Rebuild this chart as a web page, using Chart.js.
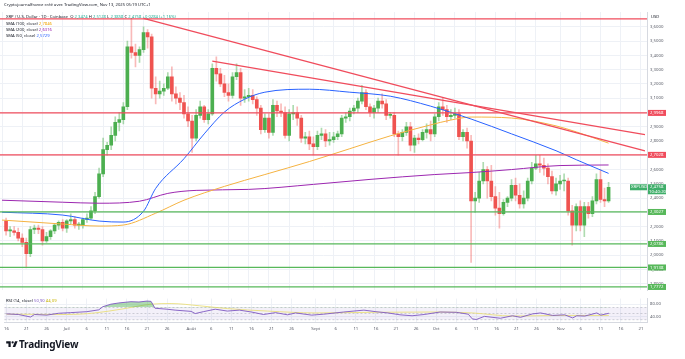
<!DOCTYPE html>
<html>
<head>
<meta charset="utf-8">
<script src="https://cdn.jsdelivr.net/npm/chart.js@4.4.1/dist/chart.umd.min.js"></script>
<style>
  html, body { margin: 0; padding: 0; background: #fff; }
  #wrap { position: relative; width: 685px; height: 359px; overflow: hidden; font-family: 'Noto Sans', 'Liberation Sans', sans-serif; color: #131722; }
  #priceBox { position: absolute; left: 0; top: 0; width: 685px; height: 296px; }
  #rsiBox { position: absolute; left: 0; top: 293px; width: 685px; height: 45px; }
  .t { position: absolute; white-space: nowrap; line-height: 1; }
  .up { color: #22ab94; }
</style>
</head>
<body>
<div id="wrap">
  <div id="priceBox"><canvas id="priceChart"></canvas></div>
  <div id="rsiBox"><canvas id="rsiChart"></canvas></div>

  <div class="t" style="left:4px;top:3px;font-size:4.2px;">Cryptojournalfrance créé avec TradingView.com, Nov 13, 2025 05:19 UTC+1</div>
  <div class="t" style="left:6px;top:15px;font-size:4.2px;">XRP / U.S. Dollar · 1D · Coinbase &nbsp;O <span class="up">2,3474</span> H <span class="up">2,5128</span> L <span class="up">2,3858</span> C <span class="up">2,4758 +0,0284 (+1,16%)</span></div>
  <div class="t" style="left:6px;top:22px;font-size:4.2px;">SMA (100, close) <span style="color:#f0a500">2,7846</span></div>
  <div class="t" style="left:6px;top:28px;font-size:4.2px;">SMA (200, close) <span style="color:#9c27b0">2,6316</span></div>
  <div class="t" style="left:6px;top:34px;font-size:4.2px;">SMA (50, close) <span style="color:#2962ff">2,5729</span></div>
  <div class="t" style="left:651px;top:15px;font-size:4.2px;">USD</div>
  <div class="t" style="left:6px;top:299px;font-size:4.2px;">RSI (14, close) <span style="color:#7e57c2">50,90</span> <span style="color:#c9b400">44,09</span></div>

  <div class="t" style="left:5px;top:339px;font-size:10px;font-weight:700;letter-spacing:-0.2px;">
    <svg width="14" height="9" viewBox="0 0 36 28" style="vertical-align:-1px"><path d="M14 22H7V11H0V4h14v18zM28 22h-8l7.5-18h8L28 22z" fill="#131722"/><circle cx="20" cy="7.5" r="3.5" fill="#131722"/></svg>TradingView
  </div>
</div>

<script>
// Axe du temps : une catégorie par jour, du 16 juin au 22 novembre 2025
const days = [];
for (let t = Date.UTC(2025, 5, 16); t <= Date.UTC(2025, 10, 22); t += 86400000) {
  days.push(new Date(t).toISOString().slice(0, 10));
}
const tickDays = [1, 6, 11, 16, 21, 26];
const monthNames = { '07': 'Juil', '08': 'Août', '09': 'Sept', '10': 'Oct', '11': 'Nov' };

// Bougies journalières XRP/USD (17 juin -> 13 novembre)
const firstCandle = '2025-06-17';
const opens = [
  2.24,2.17,2.17,2.16,2.12,2.09,2.01,2.18,2.19,2.18,2.10,2.13,2.17,2.21,
  2.23,2.19,2.24,2.25,2.21,2.21,2.25,2.26,2.31,2.41,2.57,2.74,2.77,2.84,2.93,2.95,3.04,3.46,3.42,3.40,3.44,3.56,3.53,3.17,3.13,3.15,3.17,3.25,3.13,3.10,3.07,
  2.99,2.94,2.82,2.98,3.04,2.95,2.99,3.31,3.27,3.20,3.14,3.12,3.25,3.28,3.10,3.11,3.12,3.09,3.03,2.88,2.96,2.86,3.05,3.01,3.00,2.84,2.99,3.00,2.96,2.82,2.83,
  2.78,2.76,2.84,2.85,2.80,2.81,2.83,2.85,2.96,2.97,3.01,3.03,3.08,3.14,3.04,3.00,3.03,3.08,3.06,2.98,2.98,2.85,2.83,2.86,2.90,2.77,2.82,2.81,2.86,2.88,
  2.85,2.97,3.04,3.02,2.97,2.98,2.99,2.83,2.86,2.80,2.38,2.40,2.52,2.60,2.52,2.41,2.33,2.29,2.37,2.40,2.49,2.42,2.36,2.40,2.52,2.61,2.64,2.63,2.61,2.55,2.45,
  2.50,2.52,2.52,2.31,2.21,2.34,2.21,2.34,2.29,2.38,2.53,2.39,2.38
];
const highs = [
  2.26,2.20,2.20,2.19,2.15,2.12,2.20,2.21,2.21,2.20,2.16,2.18,2.22,2.24,
  2.25,2.25,2.29,2.27,2.23,2.26,2.29,2.34,2.44,2.61,2.82,2.79,2.90,2.97,3.00,3.07,3.50,3.66,3.48,3.46,3.60,3.58,3.55,3.25,3.22,3.20,3.28,3.32,3.18,3.14,3.12,
  3.04,2.98,3.02,3.08,3.05,3.02,3.34,3.39,3.31,3.26,3.20,3.28,3.34,3.31,3.16,3.17,3.16,3.11,3.05,2.99,2.99,3.09,3.08,3.06,3.04,3.02,3.05,3.04,2.98,2.86,2.87,
  2.83,2.87,2.89,2.88,2.86,2.86,2.87,2.98,3.00,3.03,3.05,3.10,3.19,3.16,3.06,3.05,3.10,3.13,3.09,3.00,3.00,2.87,2.88,2.93,2.93,2.84,2.85,2.88,2.92,2.94,
  2.99,3.07,3.10,3.05,3.02,3.03,3.02,2.88,2.89,2.84,2.44,2.58,2.65,2.62,2.63,2.48,2.44,2.39,2.41,2.53,2.54,2.50,2.45,2.54,2.65,2.70,2.70,2.68,2.64,2.59,2.54,
  2.56,2.57,2.54,2.35,2.36,2.38,2.37,2.37,2.41,2.57,2.60,2.47,2.51
];
const lows = [
  2.14,2.13,2.14,2.10,2.06,1.91,1.99,2.15,2.15,2.07,2.09,2.11,2.15,2.18,
  2.17,2.16,2.22,2.19,2.18,2.19,2.23,2.25,2.29,2.40,2.55,2.70,2.74,2.80,2.87,2.92,3.02,3.38,3.32,3.35,3.42,3.45,3.10,3.06,3.10,3.12,3.16,3.08,3.06,3.02,2.96,
  2.90,2.72,2.80,2.96,2.93,2.92,2.98,3.22,3.18,3.11,3.08,3.10,3.23,3.05,3.07,3.08,3.06,2.98,2.85,2.86,2.82,2.84,2.97,2.97,2.82,2.80,2.95,2.91,2.79,2.78,2.74,
  2.70,2.74,2.81,2.76,2.77,2.79,2.81,2.83,2.93,2.94,2.99,3.00,3.06,3.02,2.97,2.96,3.00,3.03,2.95,2.96,2.83,2.70,2.80,2.84,2.73,2.72,2.78,2.80,2.82,2.80,
  2.83,2.94,2.98,2.93,2.95,2.96,2.81,2.80,2.75,1.95,2.30,2.37,2.50,2.40,2.38,2.28,2.19,2.28,2.34,2.38,2.38,2.33,2.33,2.38,2.50,2.60,2.58,2.56,2.50,2.43,2.42,
  2.46,2.45,2.28,2.07,2.17,2.17,2.13,2.26,2.27,2.36,2.37,2.34,2.37
];
const closes = [
  2.17,2.17,2.16,2.12,2.09,2.01,2.18,2.19,2.18,2.10,2.13,2.17,2.21,2.23,
  2.19,2.24,2.25,2.21,2.21,2.25,2.26,2.31,2.41,2.57,2.74,2.77,2.84,2.93,2.95,3.04,3.46,3.42,3.40,3.44,3.56,3.53,3.17,3.13,3.15,3.17,3.25,3.13,3.10,3.07,2.99,
  2.94,2.82,2.98,3.04,2.95,2.99,3.31,3.27,3.20,3.14,3.12,3.25,3.28,3.10,3.11,3.12,3.09,3.03,2.88,2.96,2.86,3.05,3.01,3.00,2.84,2.99,3.00,2.96,2.82,2.83,2.78,
  2.76,2.84,2.85,2.80,2.81,2.83,2.85,2.96,2.97,3.01,3.03,3.08,3.14,3.04,3.00,3.03,3.08,3.06,2.98,2.98,2.85,2.83,2.86,2.90,2.77,2.82,2.81,2.86,2.88,2.85,
  2.97,3.04,3.02,2.97,2.98,2.99,2.83,2.86,2.80,2.38,2.40,2.52,2.60,2.52,2.41,2.33,2.29,2.37,2.40,2.49,2.42,2.36,2.40,2.52,2.61,2.64,2.63,2.61,2.55,2.45,2.50,
  2.52,2.52,2.31,2.21,2.34,2.21,2.34,2.29,2.38,2.53,2.39,2.38,2.4758
];

// Moyennes mobiles (dates, valeurs)
const sma50Days = ['2025-06-16','2025-07-01','2025-07-10','2025-07-16','2025-07-21','2025-07-24','2025-07-31','2025-08-05','2025-08-10','2025-08-15','2025-08-20','2025-08-31','2025-09-10','2025-09-20','2025-09-30','2025-10-10','2025-10-20','2025-10-31','2025-11-05','2025-11-13'];
const sma50Values = [2.301,2.281,2.239,2.232,2.308,2.468,2.676,2.850,3.003,3.093,3.142,3.163,3.142,3.114,3.044,2.954,2.850,2.732,2.669,2.573];
const sma100Days = ['2025-06-16','2025-07-01','2025-07-10','2025-07-16','2025-07-24','2025-07-31','2025-08-10','2025-08-20','2025-08-31','2025-09-10','2025-09-20','2025-09-30','2025-10-05','2025-10-10','2025-10-20','2025-10-31','2025-11-05','2025-11-13'];
const sma100Values = [2.246,2.218,2.204,2.211,2.294,2.385,2.482,2.565,2.656,2.746,2.836,2.913,2.947,2.968,2.961,2.906,2.864,2.785];
const sma200Days = ['2025-06-16','2025-07-01','2025-07-10','2025-07-20','2025-07-27','2025-08-03','2025-08-16','2025-09-01','2025-09-15','2025-10-01','2025-10-10','2025-10-20','2025-11-01','2025-11-13'];
const sma200Values = [2.385,2.371,2.364,2.378,2.433,2.454,2.461,2.496,2.531,2.565,2.579,2.600,2.628,2.632];

// Tracés : lignes de tendance et niveaux horizontaux
const trend1Days = ['2025-07-21', '2025-11-22'];
const trend1Values = [3.66, 2.73];
const trend2Days = ['2025-08-07', '2025-11-22'];
const trend2Values = [3.36, 2.845];
const levelValues = [3.656, 2.9968, 2.7028, 2.3027, 2.0786, 1.9138, 1.7772];
const levelTags = ['', '2,9968', '2,7028', '2,3027', '2,0786', '1,9138', '1,7772'];
const levelKinds = ['r', 'r', 'r', 'g', 'g', 'g', 'g'];
const priceTicks = [1.8,1.9,2.0,2.1,2.2,2.3,2.4,2.5,2.6,2.7,2.8,2.9,3.0,3.1,3.2,3.3,3.4,3.5,3.6];
const lastPrice = 2.4758;

const rsiDays = ['2025-06-16','2025-06-19','2025-06-22','2025-06-23','2025-06-26','2025-06-29','2025-07-02','2025-07-06','2025-07-09','2025-07-10','2025-07-12','2025-07-14','2025-07-17','2025-07-19','2025-07-21','2025-07-22','2025-07-23','2025-07-26','2025-07-28','2025-08-01','2025-08-02','2025-08-04','2025-08-07','2025-08-10','2025-08-13','2025-08-16','2025-08-19','2025-08-22','2025-08-25','2025-08-27','2025-08-31','2025-09-03','2025-09-08','2025-09-13','2025-09-16','2025-09-19','2025-09-22','2025-09-25','2025-09-28','2025-10-02','2025-10-06','2025-10-09','2025-10-10','2025-10-11','2025-10-13','2025-10-17','2025-10-20','2025-10-22','2025-10-25','2025-10-27','2025-10-30','2025-11-02','2025-11-04','2025-11-05','2025-11-07','2025-11-10','2025-11-11','2025-11-13'];
const rsiValues = [49,47,39,47,45,51,53,56,62,72,80,84,88,87,90,89,67,64,61,57,50,56,64,58,61,55,47,53,46,52,45,48,55,61,56,52,46,43,47,55,54,48,33,31,41,35,43,38,49,52,44,46,36,43,42,52,45,51];
const rsiMaDays = ['2025-06-16','2025-07-01','2025-07-08','2025-07-15','2025-07-22','2025-07-27','2025-08-03','2025-08-10','2025-08-20','2025-09-01','2025-09-15','2025-10-01','2025-10-10','2025-10-20','2025-11-01','2025-11-13'];
const rsiMaValues = [48,47,52,65,80,82,75,66,58,52,54,55,52,42,44,44];

const upColor = '#4caf50';
const downColor = '#ef5350';
const redLine = '#f04c5c';
const greenLine = '#57b85a';
const gridColor = '#eef1f6';

const toPoints = (d, v) => d.map((x, i) => ({ x: x, y: v[i] }));
const start = days.indexOf(firstCandle);
const candleDays = days.slice(start, start + opens.length);

// Filtre des graduations du temps (1, 6, 11, 16, 21, 26)
function keepTimeTicks(scale) {
  scale.ticks = scale.ticks.filter(t => tickDays.includes(+days[t.value].slice(8)));
}
function timeLabel(value) {
  const d = days[value];
  if (d.slice(8) === '01') return monthNames[d.slice(5, 7)];
  return String(+d.slice(8));
}

// Niveaux horizontaux + étiquettes sur l'axe des prix
const levelsPlugin = {
  id: 'levels',
  afterDatasetsDraw(chart) {
    const { ctx, chartArea: a, scales: { y } } = chart;
    ctx.save();
    levelValues.forEach((v, i) => {
      const py = y.getPixelForValue(v);
      ctx.strokeStyle = levelKinds[i] === 'r' ? redLine : greenLine;
      ctx.lineWidth = 1.3;
      ctx.beginPath(); ctx.moveTo(a.left, py); ctx.lineTo(a.right, py); ctx.stroke();
    });
    ctx.restore();
  },
  afterDraw(chart) {
    const { ctx, chartArea: a, scales: { y } } = chart;
    ctx.save();
    ctx.font = '4.3px "Noto Sans"';
    ctx.textBaseline = 'middle';
    levelValues.forEach((v, i) => {
      if (!levelTags[i]) return;
      const py = y.getPixelForValue(v);
      ctx.fillStyle = levelKinds[i] === 'r' ? redLine : greenLine;
      ctx.fillRect(a.right + 1, py - 3, 18, 6);
      ctx.fillStyle = '#fff';
      ctx.fillText(levelTags[i], a.right + 3, py);
    });
    // prix courant
    const py = y.getPixelForValue(lastPrice);
    ctx.fillStyle = '#3fae6a';
    ctx.fillRect(a.right - 17, py - 3, 17, 6);
    ctx.fillRect(a.right + 1, py - 3, 18, 10);
    ctx.fillStyle = '#fff';
    ctx.fillText('XRPUSD', a.right - 16, py);
    ctx.fillText('2,4758', a.right + 3, py);
    ctx.fillText('10:40:20', a.right + 2, py + 4.5);
    ctx.restore();
  }
};

const smaLine = (d, v, color) => ({
  type: 'line', data: toPoints(d, v), borderColor: color, borderWidth: 1, pointRadius: 0,
  cubicInterpolationMode: 'monotone', order: 1
});

const priceChart = new Chart(document.getElementById('priceChart'), {
  type: 'bar',
  data: {
    labels: days,
    datasets: [
      { type: 'line', data: toPoints(trend1Days, trend1Values), borderColor: redLine, borderWidth: 1.3, pointRadius: 0, order: 0 },
      { type: 'line', data: toPoints(trend2Days, trend2Values), borderColor: redLine, borderWidth: 1.3, pointRadius: 0, order: 0 },
      smaLine(sma50Days, sma50Values, '#2962ff'),
      smaLine(sma100Days, sma100Values, '#f5b342'),
      smaLine(sma200Days, sma200Values, '#9c27b0'),
      {
        data: candleDays.map((d, i) => ({ x: d, y: [lows[i], highs[i]] })),
        backgroundColor: opens.map((o, i) => closes[i] >= o ? 'rgba(76,175,80,0.45)' : 'rgba(239,83,80,0.4)'),
        barThickness: 1, grouped: false, order: 3
      },
      {
        data: candleDays.map((d, i) => ({ x: d, y: [opens[i], closes[i]] })),
        backgroundColor: opens.map((o, i) => closes[i] >= o ? upColor : downColor),
        barThickness: 3, minBarLength: 1, grouped: false, order: 2
      }
    ]
  },
  options: {
    responsive: true,
    maintainAspectRatio: false,
    animation: false,
    events: [],
    layout: { padding: { top: 12, bottom: 3, left: 0, right: 0 } },
    plugins: { legend: { display: false }, tooltip: { enabled: false } },
    scales: {
      x: {
        offset: true,
        grid: { color: gridColor, offset: false, drawTicks: false },
        border: { display: false },
        ticks: { display: false, autoSkip: false },
        afterBuildTicks: keepTimeTicks
      },
      y: {
        position: 'right',
        min: 1.753,
        max: 3.704,
        afterBuildTicks: s => { s.ticks = priceTicks.map(v => ({ value: v })); },
        afterFit: s => { s.width = 38; },
        grid: { color: gridColor, drawTicks: false },
        border: { display: true, color: '#d6d9e0' },
        ticks: { padding: 3, color: '#5d606b', font: { size: 4.3, family: 'Noto Sans' }, callback: v => v.toFixed(4).replace('.', ',') }
      }
    }
  },
  plugins: [levelsPlugin]
});

// Bande 30-70 du RSI
const bandPlugin = {
  id: 'band',
  beforeDatasetsDraw(chart) {
    const { ctx, chartArea: a, scales: { y } } = chart;
    const y70 = y.getPixelForValue(70), y50 = y.getPixelForValue(50), y30 = y.getPixelForValue(30);
    ctx.save();
    ctx.fillStyle = 'rgba(126,87,194,0.09)';
    ctx.fillRect(a.left, y70, a.width, y30 - y70);
    ctx.strokeStyle = 'rgba(120,123,134,0.55)';
    ctx.lineWidth = 0.6;
    ctx.setLineDash([2, 2]);
    [y70, y50, y30].forEach(py => { ctx.beginPath(); ctx.moveTo(a.left, py); ctx.lineTo(a.right, py); ctx.stroke(); });
    ctx.restore();
  }
};

const rsiChart = new Chart(document.getElementById('rsiChart'), {
  type: 'line',
  data: {
    labels: days,
    datasets: [
      {
        data: toPoints(rsiDays, rsiValues), borderColor: '#7e57c2', borderWidth: 0.9, pointRadius: 0,
        fill: { target: { value: 70 }, above: 'rgba(76,175,80,0.45)', below: 'rgba(0,0,0,0)' }
      },
      { data: toPoints(rsiMaDays, rsiMaValues), borderColor: '#eadf7c', borderWidth: 0.9, pointRadius: 0, cubicInterpolationMode: 'monotone' }
    ]
  },
  options: {
    responsive: true,
    maintainAspectRatio: false,
    animation: false,
    events: [],
    layout: { padding: { top: 0, bottom: 0, left: 0, right: 0 } },
    plugins: { legend: { display: false }, tooltip: { enabled: false } },
    scales: {
      x: {
        offset: true,
        grid: { color: gridColor, offset: false, drawTicks: false },
        border: { display: true, color: '#d6d9e0' },
        ticks: { autoSkip: false, maxRotation: 0, padding: 4, color: '#5d606b', font: { size: 4.3, family: 'Noto Sans' }, callback: timeLabel },
        afterBuildTicks: keepTimeTicks,
        afterFit: s => { s.height = 16; }
      },
      y: {
        position: 'right',
        min: 23,
        max: 98,
        afterBuildTicks: s => { s.ticks = [{ value: 40 }, { value: 80 }]; },
        afterFit: s => { s.width = 38; },
        grid: { color: gridColor, drawTicks: false },
        border: { display: true, color: '#d6d9e0' },
        ticks: { padding: 3, color: '#5d606b', font: { size: 4.3, family: 'Noto Sans' }, callback: v => v.toFixed(2) }
      }
    }
  },
  plugins: [bandPlugin]
});
</script>
</body>
</html>
